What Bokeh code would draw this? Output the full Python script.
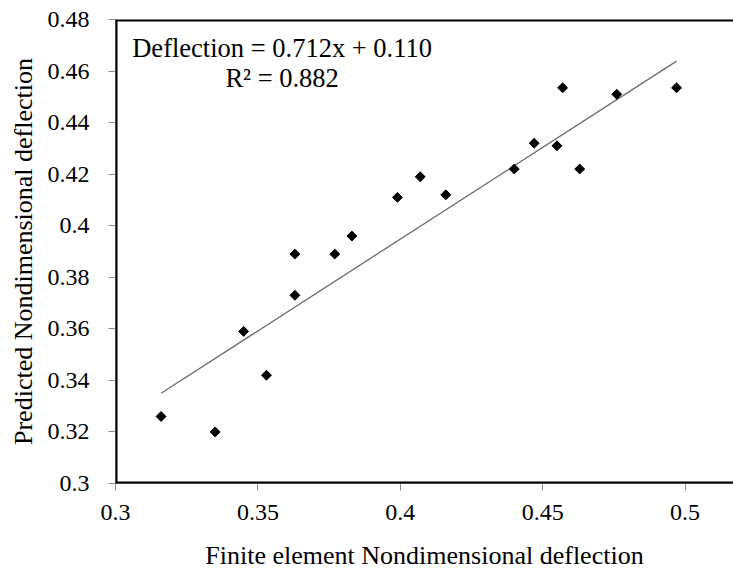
import numpy as np
from bokeh.plotting import figure
from bokeh.models import FixedTicker, Label, Span, Range1d
from bokeh.embed import file_html
from bokeh.resources import INLINE

# Data
fe_deflection = [0.316, 0.335, 0.345, 0.353, 0.363, 0.363, 0.377, 0.383, 0.399,
                 0.407, 0.416, 0.440, 0.447, 0.455, 0.457, 0.463, 0.476, 0.497]
pred_deflection = [0.326, 0.320, 0.359, 0.342, 0.373, 0.389, 0.389, 0.396, 0.411,
                   0.419, 0.412, 0.422, 0.432, 0.431, 0.4535, 0.422, 0.451, 0.4535]
slope = 0.712
intercept = 0.110
r_squared = 0.882

x_ticks = [0.3, 0.35, 0.4, 0.45, 0.5]
x_tick_labels = ["0.3", "0.35", "0.4", "0.45", "0.5"]
y_ticks = [0.30, 0.32, 0.34, 0.36, 0.38, 0.40, 0.42, 0.44, 0.46, 0.48]
y_tick_labels = ["0.3", "0.32", "0.34", "0.36", "0.38", "0.4", "0.42", "0.44", "0.46", "0.48"]

FONT = "Liberation Serif"

p = figure(width=733, height=574, output_backend="svg", toolbar_location=None,
           x_range=Range1d(0.3, 0.517), y_range=Range1d(0.3, 0.48),
           min_border_left=115, min_border_right=0, min_border_top=19, min_border_bottom=91)
p.background_fill_color = "white"
p.border_fill_color = "white"
p.outline_line_color = None
p.xgrid.visible = False
p.ygrid.visible = False

for ax, ticks, labels in ((p.xaxis[0], x_ticks, x_tick_labels), (p.yaxis[0], y_ticks, y_tick_labels)):
    ax.ticker = FixedTicker(ticks=ticks)
    ax.major_label_overrides = {t: l for t, l in zip(ticks, labels)}
    ax.axis_line_color = "#8c8c8c"
    ax.axis_line_width = 1
    ax.major_tick_line_color = "#8c8c8c"
    ax.major_tick_in = 0
    ax.major_tick_out = 7
    ax.minor_tick_line_color = None
    ax.major_label_text_font = FONT
    ax.major_label_text_font_size = "24px"
    ax.major_label_text_color = "black"
    ax.axis_label_text_font = FONT
    ax.axis_label_text_font_size = "26px"
    ax.axis_label_text_font_style = "normal"
    ax.axis_label_text_color = "black"

p.xaxis.axis_label = "Finite element Nondimensional deflection"
p.yaxis.axis_label = "Predicted Nondimensional deflection"
p.xaxis.major_label_standoff = 14
p.xaxis.axis_label_standoff = 18
p.yaxis.major_label_standoff = 19
p.yaxis.axis_label_standoff = 7

# Frame borders (left, bottom, top thick black)
p.add_layout(Span(location=0.3, dimension="height", line_color="black", line_width=4))
p.add_layout(Span(location=0.3, dimension="width", line_color="black", line_width=4))
p.add_layout(Span(location=0.48, dimension="width", line_color="black", line_width=4))

# Trendline
xs = np.array([min(fe_deflection), max(fe_deflection)])
p.line(xs, slope * xs + intercept, line_color="#6b6b6b", line_width=1.3)

# Points
p.scatter(fe_deflection, pred_deflection, marker="square", angle=np.pi / 4, size=7,
          fill_color="black", line_color="black")

p.add_layout(Label(x=0.3585, y=0.469, text="Deflection = %.3fx + %.3f" % (slope, intercept),
                   text_align="center", text_baseline="alphabetic",
                   text_font=FONT, text_font_size="26.5px", text_color="black"))
p.add_layout(Label(x=0.3585, y=0.4574, text="R\u00b2 = %.3f" % r_squared,
                   text_align="center", text_baseline="alphabetic",
                   text_font=FONT, text_font_size="26.5px", text_color="black"))

open("out.html", "w").write(file_html(p, INLINE))
